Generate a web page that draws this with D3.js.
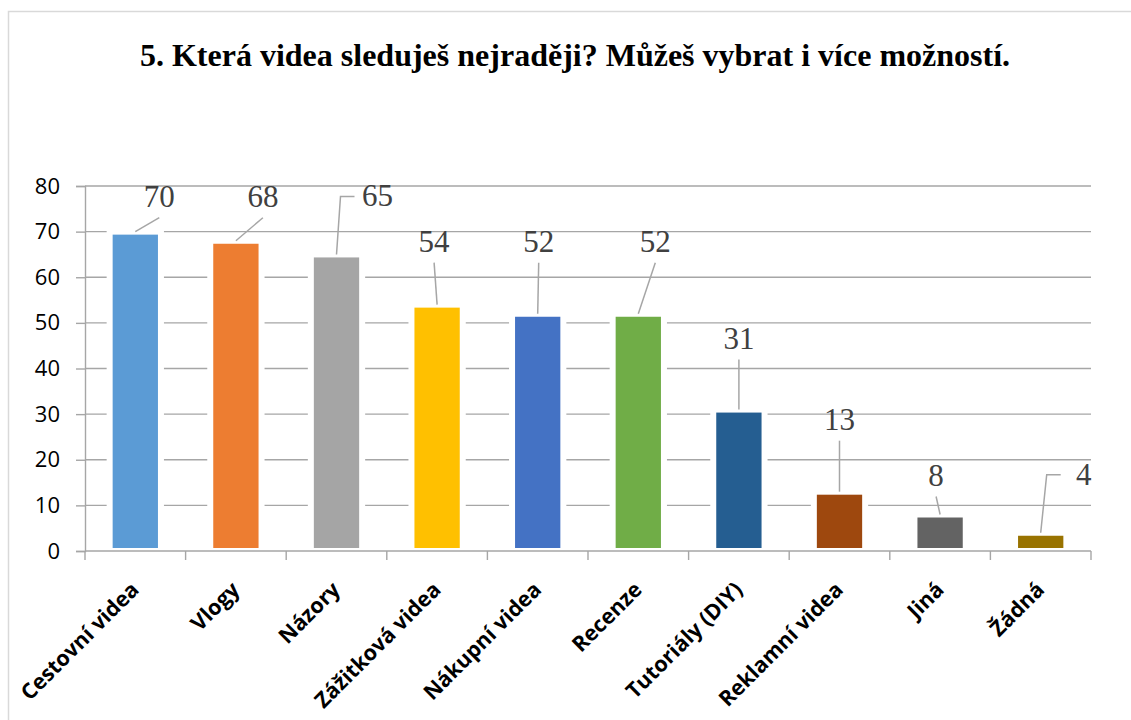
<!DOCTYPE html>
<html>
<head>
<meta charset="utf-8">
<script src="https://cdn.jsdelivr.net/npm/d3@7"></script>
<style>
  body { margin: 0; background: #fff; }
  .ytick text { font-family: "Open Sans", "Noto Sans", sans-serif; font-size: 22px; fill: #000; }
  .xlab { font-family: "Open Sans", "Noto Sans", sans-serif; font-size: 21.5px; font-weight: 700; fill: #000; }
  .dlab { font-family: "Liberation Serif", "Times New Roman", serif; font-size: 31px; fill: #404040; }
  .title { font-family: "Liberation Serif", "Times New Roman", serif; font-size: 32px; font-weight: 700; fill: #000; }
</style>
</head>
<body>
<div id="chart"></div>
<script>
var categories = ["Cestovní videa", "Vlogy", "Názory", "Zážitková videa", "Nákupní videa",
    "Recenze", "Tutoriály (DIY)", "Reklamní videa", "Jiná", "Žádná"];
var values = [70, 68, 65, 54, 52, 52, 31, 13, 8, 4];
var colors = ["#5B9BD5", "#ED7D31", "#A5A5A5", "#FFC000", "#4472C4",
    "#70AD47", "#255E91", "#9E480E", "#636363", "#997300"];
var yTicks = [0, 10, 20, 30, 40, 50, 60, 70, 80];
var title = "5. Která videa sleduješ nejraději? Můžeš vybrat i více možností.";

// where each data label sits, relative to the top centre of its bar (pixels)
// side = leader line bends and enters the label from the left
var labelLayout = [
    {dx: 24, dy: -25, side: false},
    {dx: 27, dy: -34, side: false},
    {dx: 41, dy: -48, side: true},
    {dx: -3, dy: -53, side: false},
    {dx: 1, dy: -62, side: false},
    {dx: 17, dy: -62, side: false},
    {dx: 0, dy: -61, side: false},
    {dx: 0, dy: -62, side: false},
    {dx: -4, dy: -29, side: false},
    {dx: 43, dy: -48, side: true}
];

var W = 1131, H = 720;
var margin = {top: 186, right: 40, bottom: 169, left: 85};
var width = W - margin.left - margin.right;
var height = H - margin.top - margin.bottom;

var svg = d3.select("#chart").append("svg")
    .attr("width", W)
    .attr("height", H);

// chart frame (runs off the right and bottom edge)
svg.append("rect")
    .attr("x", 8.5)
    .attr("y", 11.5)
    .attr("width", 1200)
    .attr("height", 800)
    .attr("fill", "none")
    .attr("stroke", "#d9d9d9")
    .attr("stroke-width", 1.5);

svg.append("text")
    .attr("class", "title")
    .attr("x", 575)
    .attr("y", 66)
    .attr("text-anchor", "middle")
    .text(title);

var g = svg.append("g")
    .attr("transform", "translate(" + margin.left + "," + margin.top + ")");

var x = d3.scaleBand()
    .domain(categories)
    .range([0, width])
    .paddingInner(0.49)
    .paddingOuter(0.245);

var y = d3.scaleLinear()
    .domain([0, 80])
    .range([height, 0]);

// gridlines
g.append("g")
    .selectAll("line")
    .data(yTicks.slice(1))
    .enter().append("line")
    .attr("x1", 0)
    .attr("x2", width)
    .attr("y1", function (d) { return y(d); })
    .attr("y2", function (d) { return y(d); })
    .attr("stroke", "#a6a6a6")
    .attr("stroke-width", 1.4);

// y axis
var yAxis = g.append("g")
    .attr("class", "ytick")
    .call(d3.axisLeft(y).tickValues(yTicks).tickSize(9).tickPadding(16));
yAxis.attr("font-size", null).attr("font-family", null);
yAxis.select(".domain").attr("stroke", "#a6a6a6").attr("stroke-width", 1.4);
yAxis.selectAll(".tick line").attr("stroke", "#a6a6a6").attr("stroke-width", 1.4);

// bars, with the wide white outline of the original
g.append("g")
    .selectAll("rect")
    .data(values)
    .enter().append("rect")
    .attr("x", function (d, i) { return x(categories[i]); })
    .attr("y", function (d) { return y(d); })
    .attr("width", x.bandwidth())
    .attr("height", function (d) { return height - y(d); })
    .attr("fill", function (d, i) { return colors[i]; })
    .attr("stroke", "#fff")
    .attr("stroke-width", 6);

// x axis: line plus ticks between categories
var xAxis = g.append("g")
    .attr("transform", "translate(0," + height + ")");
xAxis.append("line")
    .attr("x1", 0)
    .attr("x2", width)
    .attr("stroke", "#a6a6a6")
    .attr("stroke-width", 1.4);
xAxis.selectAll(".xt")
    .data(d3.range(categories.length + 1))
    .enter().append("line")
    .attr("class", "xt")
    .attr("x1", function (d) { return d * x.step(); })
    .attr("x2", function (d) { return d * x.step(); })
    .attr("y1", 0)
    .attr("y2", 9)
    .attr("stroke", "#a6a6a6")
    .attr("stroke-width", 1.4);

xAxis.selectAll(".xlab")
    .data(categories)
    .enter().append("text")
    .attr("class", "xlab")
    .attr("text-anchor", "end")
    .attr("transform", function (d) {
        return "translate(" + (x(d) + x.bandwidth() / 2 + 5) + ",40) rotate(-45)";
    })
    .text(function (d) { return d; });

// data labels and leader lines
var cx = function (i) { return x(categories[i]) + x.bandwidth() / 2; };

var labels = g.append("g")
    .selectAll("g")
    .data(values)
    .enter().append("g");

labels.append("path")
    .attr("fill", "none")
    .attr("stroke", "#a6a6a6")
    .attr("stroke-width", 1.5)
    .attr("d", function (d, i) {
        var L = labelLayout[i];
        var x0 = cx(i), y0 = y(d);
        var lx = x0 + L.dx, ly = y0 + L.dy;
        if (L.side) {
            var left = lx - 15 - 8;
            return "M" + x0 + "," + y0 + "L" + (left - 14) + "," + (ly - 10) + "L" + left + "," + (ly - 10);
        }
        return "M" + x0 + "," + y0 + "L" + lx + "," + (ly + 11);
    });

labels.append("text")
    .attr("class", "dlab")
    .attr("text-anchor", "middle")
    .attr("x", function (d, i) { return cx(i) + labelLayout[i].dx; })
    .attr("y", function (d, i) { return y(d) + labelLayout[i].dy; })
    .text(function (d) { return d; });
</script>
</body>
</html>
